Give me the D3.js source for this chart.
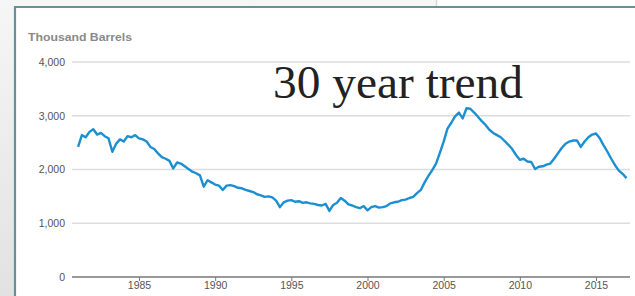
<!DOCTYPE html>
<html>
<head>
<meta charset="utf-8">
<script src="https://cdn.jsdelivr.net/npm/d3@7"></script>
<style>
  html, body { margin: 0; padding: 0; background: #fff; }
  svg { display: block; }
</style>
</head>
<body>
<svg id="chart" width="635" height="296"></svg>
<script>
// ---- Data ----
const startYear = 1981.0;       // first quarterly observation
const stepYears = 0.25;         // quarterly
const values = [
  2420, 2640, 2600, 2700, 2750, 2650, 2680, 2620, 2580, 2330, 2480, 2560,
  2520, 2620, 2600, 2640, 2580, 2560, 2520, 2420, 2380, 2300, 2230, 2200,
  2160, 2020, 2130, 2110, 2060, 2010, 1960, 1930, 1890, 1680, 1800, 1760,
  1720, 1700, 1620, 1700, 1710, 1690, 1660, 1650, 1620, 1600, 1580, 1540,
  1520, 1490, 1500, 1480, 1420, 1300, 1390, 1420, 1430, 1400, 1410, 1380,
  1390, 1370, 1360, 1340, 1330, 1360, 1230, 1340, 1380, 1470, 1420, 1350,
  1330, 1300, 1280, 1320, 1240, 1300, 1320, 1290, 1300, 1320, 1370, 1390,
  1400, 1430, 1440, 1470, 1490, 1560, 1620, 1760, 1880, 1990, 2110, 2310,
  2520, 2760, 2870, 2990, 3060, 2950, 3140, 3130, 3060, 2980, 2900, 2830,
  2740, 2680, 2640, 2600, 2530, 2460, 2380, 2270, 2180, 2200, 2150, 2140,
  2010, 2050, 2060, 2090, 2110, 2200, 2300, 2400, 2480, 2520, 2540, 2540,
  2420, 2520, 2600, 2650, 2670, 2580, 2450, 2330, 2200, 2080, 1980, 1920,
  1840
];
const yTicks = [0, 1000, 2000, 3000, 4000];
const xTicks = [1985, 1990, 1995, 2000, 2005, 2010, 2015];
const yAxisTitle = "Thousand Barrels";
const overlayTitle = "30 year trend";

const series = values.map((v, i) => ({ year: startYear + i * stepYears, value: v }));

// ---- Layout ----
const svg = d3.select("#chart");
const W = 635, H = 296;

// slide background
const defs = svg.append("defs");
const grad = defs.append("linearGradient").attr("id", "bg").attr("x1", 0).attr("y1", 0).attr("x2", 0).attr("y2", 1);
grad.append("stop").attr("offset", "0%").attr("stop-color", "#f6f6f6");
grad.append("stop").attr("offset", "100%").attr("stop-color", "#e2e2e2");
svg.append("rect").attr("x", 0).attr("y", 0).attr("width", W).attr("height", H).attr("fill", "url(#bg)");
svg.append("rect").attr("x", 437).attr("y", 0).attr("width", W - 437).attr("height", 7).attr("fill", "#ffffff");
svg.append("line").attr("x1", 436.5).attr("x2", 436.5).attr("y1", 0).attr("y2", 6).attr("stroke", "#d8d8d8").attr("stroke-width", 1.5);

// white panel with frame
svg.append("rect").attr("x", 16).attr("y", 8).attr("width", W - 16).attr("height", H - 8).attr("fill", "#ffffff");
svg.append("path")
  .attr("d", `M15,${H} L15,7 L${W},7`)
  .attr("fill", "none").attr("stroke", "#66919a").attr("stroke-width", 2.2);

// scales: x maps year -> px (1985 at 139, 2015 at 596)
const x = d3.scaleLinear().domain([1985, 2015]).range([139, 596]);
const y = d3.scaleLinear().domain([0, 4000]).range([277, 62]);
const plotLeft = 72, plotRight = 630;

// gridlines
svg.append("g").selectAll("line").data(yTicks.filter(d => d !== 0)).join("line")
  .attr("x1", plotLeft).attr("x2", plotRight)
  .attr("y1", d => y(d)).attr("y2", d => y(d))
  .attr("stroke", "#dcdcdc").attr("stroke-width", 1.5);

// y labels
svg.append("g").selectAll("text").data(yTicks).join("text")
  .attr("x", 65).attr("y", d => y(d) + 3.8)
  .attr("text-anchor", "end")
  .attr("font-family", "Arial, 'Liberation Sans', sans-serif")
  .attr("font-size", 10.5).attr("fill", "#555")
  .text(d => d3.format(",")(d));

// y-axis title
svg.append("text").attr("x", 28).attr("y", 41)
  .attr("font-family", "Arial, 'Liberation Sans', sans-serif")
  .attr("font-size", 10.5).attr("font-weight", "bold").attr("fill", "#8a8a8a")
  .attr("textLength", 104).attr("lengthAdjust", "spacingAndGlyphs")
  .text(yAxisTitle);

// x axis
const xAxis = d3.axisBottom(x).tickValues(xTicks).tickFormat(d3.format("d")).tickSize(4).tickPadding(1);
const gx = svg.append("g").attr("transform", `translate(0,${y(0)})`).call(xAxis);
gx.select(".domain").remove();
gx.append("line").attr("x1", plotLeft).attr("x2", plotRight).attr("y1", 0).attr("y2", 0)
  .attr("stroke", "#777").attr("stroke-width", 1.5);
gx.selectAll(".tick line").attr("stroke", "#777");
gx.selectAll(".tick text")
  .attr("font-family", "Arial, 'Liberation Sans', sans-serif")
  .attr("font-size", 10.5).attr("fill", "#555");

// series line
const line = d3.line().x(d => x(d.year)).y(d => y(d.value)).curve(d3.curveLinear);
svg.append("path").datum(series)
  .attr("d", line)
  .attr("fill", "none").attr("stroke", "#1b8fd2").attr("stroke-width", 2.4)
  .attr("stroke-linejoin", "round");

// overlay title
svg.append("text").attr("x", 273).attr("y", 98)
  .attr("font-family", "'Liberation Serif', 'Times New Roman', serif")
  .attr("font-size", 46).attr("fill", "#222")
  .attr("textLength", 250).attr("lengthAdjust", "spacingAndGlyphs")
  .text(overlayTitle);
</script>
</body>
</html>
